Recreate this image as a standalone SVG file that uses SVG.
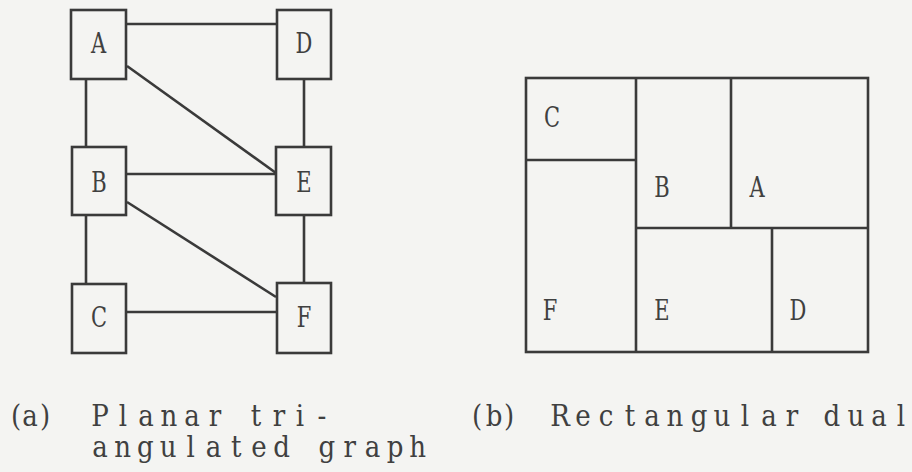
<svg xmlns="http://www.w3.org/2000/svg" width="912" height="472" viewBox="0 0 912 472">
<style>
.bg{fill:#f4f4f2}
.box{fill:#f4f4f2;stroke:#3a3a3a;stroke-width:2.6}
.ln{stroke:#3a3a3a;stroke-width:2.6;fill:none}
.lbl{font-family:"DejaVu Serif","Liberation Serif",serif;font-size:28px;fill:#404040;text-anchor:middle}
.cap{font-family:"DejaVu Serif","Liberation Serif",serif;font-size:29px;fill:#404040;text-anchor:middle}
</style>
<rect class="bg" x="0" y="0" width="912" height="472"/>
<g id="connectors">
<line class="ln" x1="126" y1="24" x2="277" y2="24"/>
<line class="ln" x1="127" y1="66" x2="276" y2="173"/>
<line class="ln" x1="126" y1="174" x2="276" y2="174"/>
<line class="ln" x1="86" y1="79" x2="86" y2="147"/>
<line class="ln" x1="304" y1="79" x2="304" y2="147"/>
<line class="ln" x1="127" y1="202" x2="276" y2="297"/>
<line class="ln" x1="86" y1="215" x2="86" y2="284"/>
<line class="ln" x1="304" y1="215" x2="304" y2="283"/>
<line class="ln" x1="126" y1="312" x2="277" y2="312"/>
</g>
<g id="nodeA"><rect class="box" x="71" y="10" width="55" height="69"/><text class="lbl" transform="matrix(0.75,0,0,1,98.5,53)">A</text></g>
<g id="nodeD"><rect class="box" x="277" y="10" width="54" height="69"/><text class="lbl" transform="matrix(0.75,0,0,1,304,53)">D</text></g>
<g id="nodeB"><rect class="box" x="72" y="147" width="54" height="68"/><text class="lbl" transform="matrix(0.75,0,0,1,99,192)">B</text></g>
<g id="nodeE"><rect class="box" x="276" y="147" width="55" height="68"/><text class="lbl" transform="matrix(0.75,0,0,1,304,192)">E</text></g>
<g id="nodeC"><rect class="box" x="72" y="284" width="54" height="69"/><text class="lbl" transform="matrix(0.75,0,0,1,99,327)">C</text></g>
<g id="nodeF"><rect class="box" x="277" y="283" width="54" height="70"/><text class="lbl" transform="matrix(0.75,0,0,1,304,327)">F</text></g>
<g id="dual">
<rect class="ln" x="526" y="78" width="342" height="274"/>
<line class="ln" x1="636" y1="78" x2="636" y2="352"/>
<line class="ln" x1="526" y1="160" x2="636" y2="160"/>
<line class="ln" x1="731" y1="78" x2="731" y2="228"/>
<line class="ln" x1="636" y1="228" x2="868" y2="228"/>
<line class="ln" x1="772" y1="228" x2="772" y2="352"/>
<text class="lbl" transform="matrix(0.75,0,0,1,552,127)">C</text>
<text class="lbl" transform="matrix(0.75,0,0,1,662,197)">B</text>
<text class="lbl" transform="matrix(0.75,0,0,1,757,197)">A</text>
<text class="lbl" transform="matrix(0.75,0,0,1,550,320)">F</text>
<text class="lbl" transform="matrix(0.75,0,0,1,662,320)">E</text>
<text class="lbl" transform="matrix(0.75,0,0,1,798,320)">D</text>
</g>
<g id="captions">
<text class="cap" transform="matrix(0.9,0,0,1,0,426)" x="17.8 33.3 50">(a)</text>
<text class="cap" transform="matrix(0.9,0,0,1,0,426)" x="111.1 136.7 162.2 187.8 213.3 238.9 264.4 284.4 310 333.3 357.8">Planar tri-</text>
<text class="cap" transform="matrix(0.9,0,0,1,0,457)" x="111.1 136.3 161.6 186.8 212 237.2 262.4 287.7 312.9 338.1 363.3 388.6 413.8 439 464.2">angulated graph</text>
<text class="cap" transform="matrix(0.9,0,0,1,0,426)" x="530 548.9 565.6">(b)</text>
<text class="cap" transform="matrix(0.9,0,0,1,0,426)" x="622.2 647.8 673.3 700 724.4 750 776.7 802.2 827.8 854.4 880 902.2 924.4 951.1 976.7 1001.1">Rectangular dual</text>
</g>
</svg>
